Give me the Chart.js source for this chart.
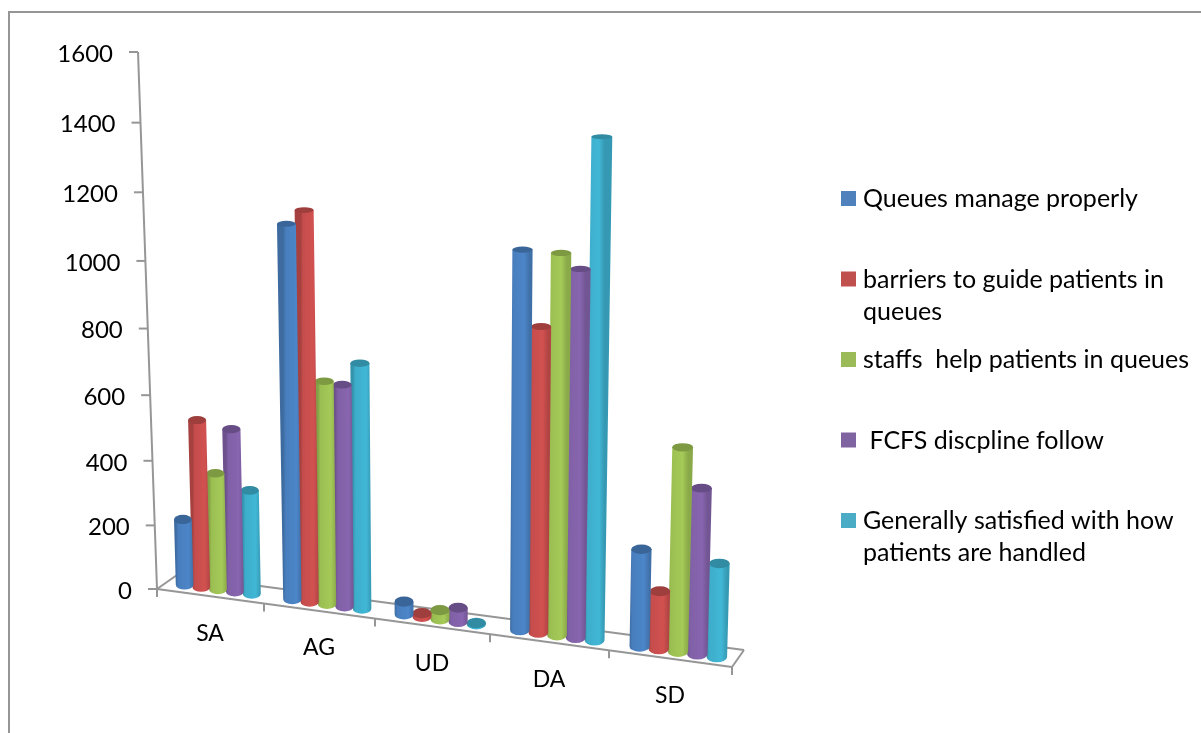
<!DOCTYPE html>
<html>
<head>
<meta charset="utf-8">
<script src="https://cdn.jsdelivr.net/npm/chart.js@4/dist/chart.umd.min.js"></script>
<style>
  html, body { margin: 0; padding: 0; background: #fff; }
  canvas { display: block; }
</style>
</head>
<body>
<canvas id="queueChart" width="1201" height="733"></canvas>
<script>
const categories = ['SA', 'AG', 'UD', 'DA', 'SD'];
const yTicks = [0, 200, 400, 600, 800, 1000, 1200, 1400, 1600];

const queuesManage = [204, 1101, 38, 1053, 269];
const barriersGuide = [513, 1141, 11, 850, 160];
const staffsHelp = [357, 658, 27, 1048, 554];
const fcfsFollow = [495, 652, 41, 1008, 450];
const generallySatisfied = [316, 717, 4, 1352, 254];

const seriesColors = ['#4a82c3', '#cb4f4e', '#a0c455', '#8463ab', '#3fb2d0'];
const legendColors = ['#4f81bd', '#c0504d', '#9bbb59', '#8064a2', '#4bacc6'];
const legendLines = [
    ['Queues manage properly'],
    ['barriers to guide patients in', 'queues'],
    ['staffs  help patients in queues'],
    [' FCFS discpline follow'],
    ['Generally satisfied with how', 'patients are handled']
];

const FONT = 'Lato, "Open Sans", sans-serif';
const GRAY = '#969696';

/* flat chart area, the 3D look is worked out from it */
const LEFT = 157, RIGHT = 732, TOP = 52, BOTTOM = 589;
const CAT_W = (RIGHT - LEFT) / categories.length;

function pictureX(px) {
    const t = (px - LEFT) / CAT_W;
    return LEFT + 105 * t + 2 * t * t;
}
function pictureH(py) {
    const u = (BOTTOM - py) / (BOTTOM - TOP);
    return (BOTTOM - TOP) * (0.94 * u + 0.06 * u * u);
}
function floorY(x) {
    return BOTTOM + 0.1357 * (x - LEFT);
}
function shade(hex, f) {
    const n = parseInt(hex.slice(1), 16);
    const c = [n >> 16, (n >> 8) & 255, n & 255].map(v => Math.min(255, Math.round(v * f)));
    return 'rgb(' + c.join(',') + ')';
}

/* bars are drawn as cylinders standing on the floor */
Chart.BarElement.prototype.draw = function (ctx) {
    const color = this.options.backgroundColor;
    const t = (this.x - LEFT) / CAT_W;
    const x = pictureX(this.x);
    const h = pictureH(this.y) * (1 + (x - LEFT) * 0.00028);
    const bx = x + 8;
    const by = floorY(x) - 7;
    const tx = bx + h * (bx - 450) / 10000;
    const ty = by - h;
    const r = this.width / CAT_W * (105 + 4 * t) / 2 + 0.5;
    const rt = r * (1 + h / 10000);
    const ryB = 2.5 + (by - 140) / 460 * 2.5;
    const ryT = 2.5 + (ty - 140) / 460 * 2.5;

    const grad = ctx.createLinearGradient(bx - r, 0, bx + r, 0);
    grad.addColorStop(0, shade(color, 0.82));
    grad.addColorStop(0.14, shade(color, 0.97));
    grad.addColorStop(0.72, shade(color, 1.03));
    grad.addColorStop(1, shade(color, 0.86));

    ctx.save();
    ctx.beginPath();
    ctx.moveTo(tx - rt, ty);
    ctx.lineTo(bx - r, by);
    ctx.ellipse(bx, by, r, ryB, 0, Math.PI, 0, true);
    ctx.lineTo(tx + rt, ty);
    ctx.closePath();
    ctx.fillStyle = grad;
    ctx.fill();
    ctx.beginPath();
    ctx.ellipse(tx, ty, rt, ryT, 0, 0, Math.PI * 2);
    ctx.fillStyle = shade(color, 0.78);
    ctx.fill();
    ctx.restore();
};

class TiltedLinear extends Chart.LinearScale {
    _computeLabelItems(area) {
        const items = super._computeLabelItems(area);
        items.forEach((item, i) => {
            const h = pictureH(this.getPixelForTick(i));
            item.options.translation = [LEFT - 19 * h / (BOTTOM - TOP) - 25, BOTTOM - h + 2];
            item.options.textAlign = 'right';
            item.options.textBaseline = 'middle';
        });
        return items;
    }
}
TiltedLinear.id = 'tiltedLinear';
TiltedLinear.defaults = Chart.LinearScale.defaults;

class SlopedCategory extends Chart.CategoryScale {
    _computeLabelItems(area) {
        const items = super._computeLabelItems(area);
        items.forEach((item, i) => {
            const x = pictureX(this.getPixelForTick(i));
            item.options.translation = [x, floorY(x) + 37];
            item.options.textAlign = 'center';
            item.options.textBaseline = 'middle';
            item.textOffset = 0;
        });
        return items;
    }
}
SlopedCategory.id = 'slopedCategory';
SlopedCategory.defaults = Chart.CategoryScale.defaults;

Chart.register(TiltedLinear, SlopedCategory);

function line(ctx, x1, y1, x2, y2) {
    ctx.beginPath();
    ctx.moveTo(x1, y1);
    ctx.lineTo(x2, y2);
    ctx.stroke();
}

const framePlugin = {
    id: 'frame',
    beforeDatasetsDraw(chart) {
        const ctx = chart.ctx;
        ctx.save();
        ctx.strokeStyle = GRAY;
        ctx.lineWidth = 2;
        line(ctx, 9, 733, 9, 12);
        line(ctx, 8, 12, 1201, 12);

        // floor
        line(ctx, LEFT, BOTTOM, RIGHT, floorY(RIGHT));
        line(ctx, RIGHT, floorY(RIGHT), 744, 650);
        line(ctx, 744, 650, 177, 575);
        line(ctx, 177, 575, LEFT, BOTTOM);
        for (let i = 0; i <= categories.length; i++) {
            const x = LEFT + 105 * i + 2 * i * i;
            line(ctx, x, floorY(x), x, floorY(x) + 8);
        }

        // value axis
        line(ctx, LEFT, BOTTOM, LEFT - 19, TOP);
        const yScale = chart.scales.y;
        yScale.ticks.forEach((tick, i) => {
            const h = pictureH(yScale.getPixelForTick(i));
            const x = LEFT - 19 * h / (BOTTOM - TOP);
            line(ctx, x - 9, BOTTOM - h, x, BOTTOM - h);
        });
        ctx.restore();
    }
};

const sideLegend = {
    id: 'sideLegend',
    afterDraw(chart) {
        const ctx = chart.ctx;
        ctx.save();
        ctx.font = '25px ' + FONT;
        ctx.textBaseline = 'middle';
        ctx.textAlign = 'left';
        legendLines.forEach((lines, i) => {
            const y = 199 + i * 80.5;
            ctx.fillStyle = legendColors[i];
            ctx.fillRect(841, y - 8, 15, 15);
            ctx.fillStyle = '#000';
            lines.forEach((text, n) => ctx.fillText(text, 863, y + n * 32));
        });
        ctx.restore();
    }
};

const seriesValues = [queuesManage, barriersGuide, staffsHelp, fcfsFollow, generallySatisfied];

new Chart(document.getElementById('queueChart').getContext('2d'), {
    type: 'bar',
    data: {
        labels: categories,
        datasets: seriesValues.map((values, i) => ({
            label: legendLines[i].join(' ').trim(),
            data: values,
            backgroundColor: seriesColors[i],
            categoryPercentage: 0.785,
            barPercentage: 1,
            clip: false
        }))
    },
    options: {
        responsive: false,
        animation: false,
        events: [],
        layout: { padding: { left: 57, right: 469, top: 52, bottom: 14 } },
        plugins: { legend: { display: false }, tooltip: { enabled: false } },
        scales: {
            x: {
                type: 'slopedCategory',
                grid: { display: false },
                border: { display: false },
                ticks: { color: '#000', font: { family: FONT, size: 23 }, maxRotation: 0 },
                afterFit(scale) { scale.height = 130; }
            },
            y: {
                type: 'tiltedLinear',
                min: 0,
                max: 1600,
                afterBuildTicks(scale) { scale.ticks = yTicks.map(v => ({ value: v })); },
                grid: { display: false },
                border: { display: false },
                ticks: {
                    color: '#000',
                    font: { family: FONT, size: 24 },
                    callback: value => String(value)
                },
                afterFit(scale) { scale.width = 100; }
            }
        }
    },
    plugins: [framePlugin, sideLegend]
});
</script>
</body>
</html>
